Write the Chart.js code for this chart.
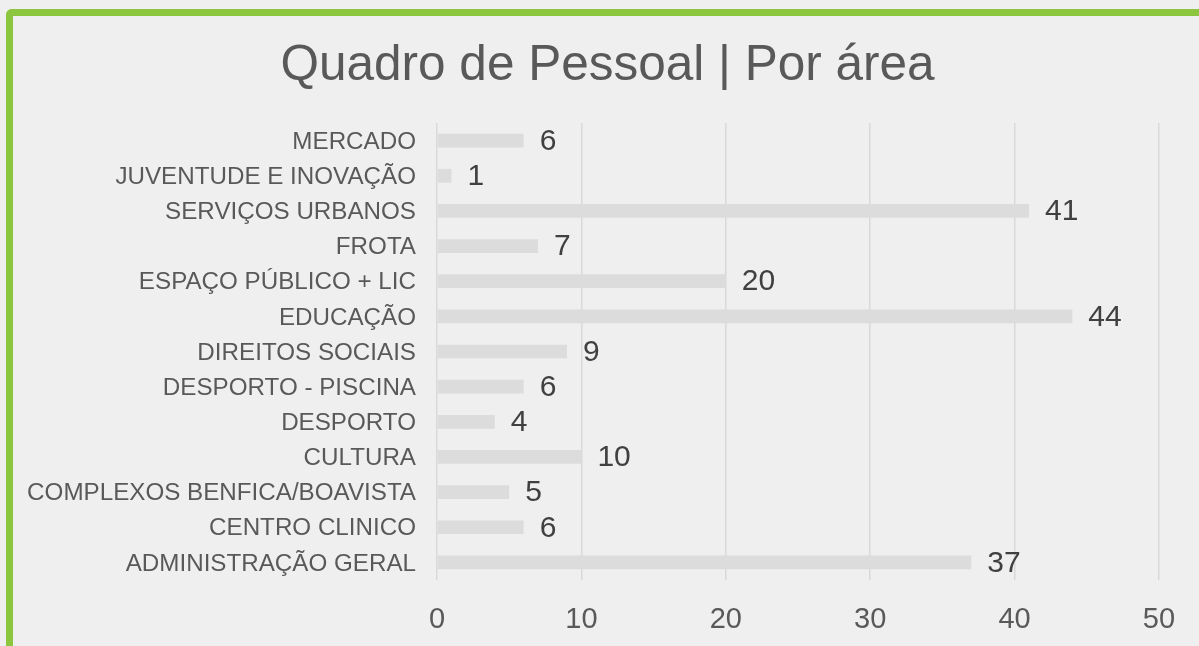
<!DOCTYPE html>
<html>
<head>
<meta charset="utf-8">
<script src="https://cdn.jsdelivr.net/npm/chart.js@4"></script>
<style>
  html, body { margin: 0; padding: 0; background: #efefef; overflow: hidden; }
  #frame {
    position: absolute; left: 6px; top: 9px; width: 1300px; height: 700px;
    border-left: 7px solid #8cc63f; border-top: 7px solid #8cc63f;
    border-top-left-radius: 6px;
  }
  #wrap { position: absolute; left: 0; top: 0; width: 1199px; height: 646px; }
</style>
</head>
<body>
<div id="frame"></div>
<div id="wrap"><canvas id="staffChart"></canvas></div>
<script>
// Quadro de Pessoal por área
const chartTitle = 'Quadro de Pessoal | Por área';
const areas = [
    'MERCADO',
    'JUVENTUDE E INOVAÇÃO',
    'SERVIÇOS URBANOS',
    'FROTA',
    'ESPAÇO PÚBLICO + LIC',
    'EDUCAÇÃO',
    'DIREITOS SOCIAIS',
    'DESPORTO - PISCINA',
    'DESPORTO',
    'CULTURA',
    'COMPLEXOS BENFICA/BOAVISTA',
    'CENTRO CLINICO',
    'ADMINISTRAÇÃO GERAL'
];
const staffCount = [6, 1, 41, 7, 20, 44, 9, 6, 4, 10, 5, 6, 37];
const axisMin = 0;
const axisMax = 50;
const axisStep = 10;

const FONT = '"Liberation Sans", Arial, sans-serif';

// title is centred over the green frame, not the canvas, so draw it here
const frameTitle = {
    id: 'frameTitle',
    afterDraw(chart) {
        const ctx = chart.ctx;
        ctx.save();
        ctx.font = '49.5px ' + FONT;
        ctx.fillStyle = '#595959';
        ctx.textAlign = 'center';
        ctx.textBaseline = 'alphabetic';
        ctx.fillText(chartTitle, 607.5, 80);
        ctx.restore();
    }
};

// value labels at the end of each bar
const valueLabels = {
    id: 'valueLabels',
    afterDatasetsDraw(chart) {
        const ctx = chart.ctx;
        const meta = chart.getDatasetMeta(0);
        ctx.save();
        ctx.font = '30px ' + FONT;
        ctx.fillStyle = '#404040';
        ctx.textAlign = 'left';
        ctx.textBaseline = 'middle';
        meta.data.forEach(function(bar, i) {
            ctx.fillText(String(staffCount[i]), bar.x + 16, bar.y + 1);
        });
        ctx.restore();
    }
};

document.addEventListener('DOMContentLoaded', function() {
    const ctx = document.getElementById('staffChart');
    new Chart(ctx, {
        type: 'bar',
        data: {
            labels: areas,
            datasets: [{
                data: staffCount,
                backgroundColor: '#dcdcdc',
                borderWidth: 0,
                categoryPercentage: 1,
                barPercentage: 0.39
            }]
        },
        options: {
            indexAxis: 'y',
            responsive: true,
            maintainAspectRatio: false,
            animation: false,
            layout: {
                padding: { left: 12, right: 40, top: 123, bottom: 0 }
            },
            plugins: {
                legend: { display: false },
                tooltip: { enabled: false },
                title: { display: false }
            },
            scales: {
                x: {
                    min: axisMin,
                    max: axisMax,
                    ticks: {
                        stepSize: axisStep,
                        color: '#595959',
                        padding: 23,
                        font: { family: FONT, size: 29 }
                    },
                    grid: { color: '#d9d9d9', lineWidth: 1.5, drawTicks: false },
                    border: { display: false },
                    afterFit: function(scale) { scale.height = 66; }
                },
                y: {
                    ticks: {
                        color: '#595959',
                        padding: 21,
                        labelOffset: 1.5,
                        font: { family: FONT, size: 24.2 }
                    },
                    grid: { display: false, drawTicks: false },
                    border: { display: false },
                    afterFit: function(scale) { scale.width = 425; }
                }
            }
        },
        plugins: [valueLabels, frameTitle]
    });
});
</script>
</body>
</html>
